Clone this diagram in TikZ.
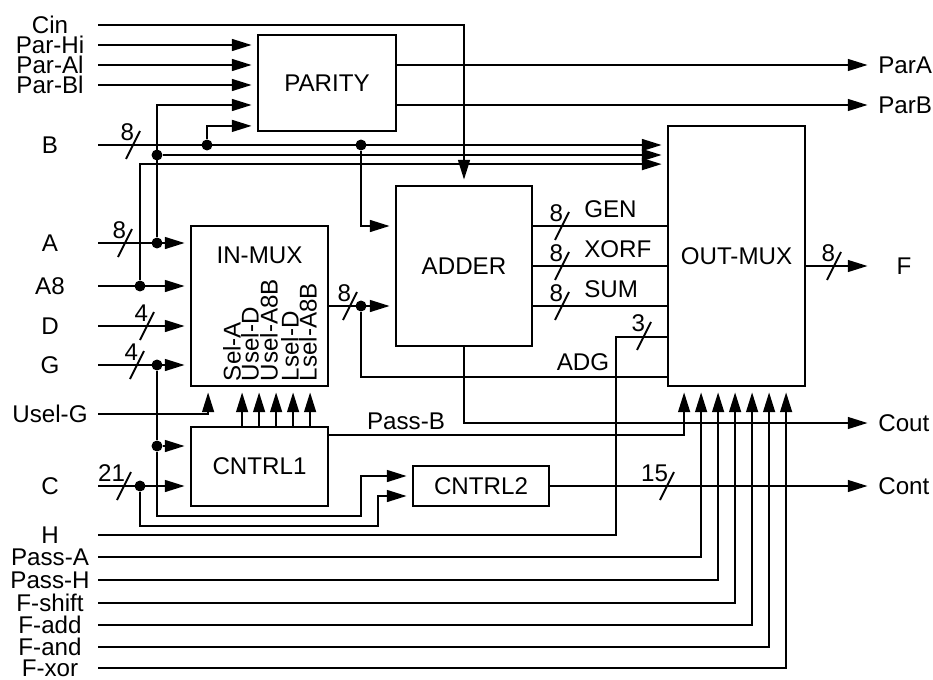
\documentclass[tikz,border=0pt]{standalone}
\usepackage{fontspec}
\setmainfont{Liberation Sans}
\usepackage{tikz}
\usetikzlibrary{arrows.meta,calc}
\tikzset{
  blockbox/.style={rectangle,draw=black,inner sep=0pt,align=center},
  arrow/.style={-{Triangle[length=9pt,width=5.4pt]},shorten >=2.5pt},
  junction/.style={circle,fill=black,inner sep=0pt,minimum size=5pt},
  inlabel/.style={inner sep=0pt},
  outlabel/.style={anchor=west,inner sep=2pt},
  buslabel/.style={anchor=east,inner sep=0pt},
  sellabel/.style={rotate=90,anchor=west,inner sep=0pt}
}

\begin{document}
\begin{tikzpicture}[x=0.016cm,y=-0.016cm,line width=0.85pt,font=\fontsize{11}{13}\selectfont]
  \useasboundingbox (0,0) rectangle (933,679);

  \node[blockbox,minimum width=2.208cm,minimum height=1.536cm] (parity) at (327,83) {PARITY};
  \node[blockbox,minimum width=2.192cm,minimum height=2.56cm] (inmux) at (259.5,306) {};
  \node (inmuxlbl) at ($(inmux.north)+(0,30)$) {IN-MUX};
  \node[blockbox,minimum width=2.176cm,minimum height=2.56cm] (adder) at (464,266) {ADDER};
  \node[blockbox,minimum width=2.192cm,minimum height=4.16cm] (outmux) at (736.5,256) {OUT-MUX};
  \node[blockbox,minimum width=2.192cm,minimum height=1.264cm] (cntrl1) at (259.5,466.5) {CNTRL1};
  \node[blockbox,minimum width=2.176cm,minimum height=0.64cm] (cntrl2) at (481,486) {CNTRL2};

  \foreach \n/\t/\y in {cin/Cin/25, parhi/Par-Hi/45, paral/Par-Al/65, parbl/Par-Bl/85,
    b/B/145, a/A/243, a8/A8/286, d/D/326, g/G/365, uselg/Usel-G/414, c/C/486, h/H/535,
    passa/Pass-A/557, passh/Pass-H/580, fshift/F-shift/603, fadd/F-add/625,
    fand/F-and/647, fxor/F-xor/668}
    \node[inlabel] (\n) at (50,\y) {\t};
  \coordinate (x0) at (98,0);

  \node[outlabel] (para) at (873,65) {ParA};
  \node[outlabel] (parb) at (873,105) {ParB};
  \node (f) at (904,266) {F};
  \node[outlabel] (cout) at (873,423) {Cout};
  \node[outlabel] (cont) at (873,486) {Cont};

  \foreach \t/\x [count=\i] in {Sel-A/232, Usel-D/250, Usel-A8B/269, Lsel-D/290, Lsel-A8B/308}
    \node[sellabel] (sel\i) at (\x,382) {\t};

  \node[anchor=south west] (gen) at (576,226) {GEN};
  \node[anchor=south west] (xorf) at (576,266) {XORF};
  \node[anchor=south west] (sum) at (576,306) {SUM};
  \node (adg) at (583,362) {ADG};
  \node (passb) at (406,421) {Pass-B};

  \node[junction] (ja1) at (157,155) {};
  \node[junction] (jb1) at (207,145) {};
  \node[junction] (jb2) at (361,145) {};
  \node[junction] (ja2) at (157,243) {};
  \node[junction] (ja8) at (140,286) {};
  \node[junction] (jg) at (157,365) {};
  \node[junction] (jmux) at (361,306) {};
  \node[junction] (jg2) at (157,446) {};
  \node[junction] (jc) at (140,486) {};

  \draw[arrow] (cin -| x0) -| (adder.north);
  \foreach \n in {parhi,paral,parbl}
    \draw[arrow] (\n -| x0) -- (\n -| parity.west);
  \draw[arrow] (b -| x0) -- (b -| outmux.west);
  \draw[arrow] (jb1) |- ($(parity.south west)+(0,-6)$);
  \draw[arrow] (jb2) |- ($(adder.west)+(0,-40)$);
  \draw[arrow] (a -| x0) -- (a -| inmux.west);
  \draw[arrow] (ja2) |- (parity.west |- parb);
  \draw[arrow] (ja1) -- (ja1 -| outmux.west);
  \draw[arrow] (a8 -| x0) -- (a8 -| inmux.west);
  \draw[arrow] (ja8) |- ($(outmux.north west)+(0,39)$);
  \draw[arrow] (d -| x0) -- (d -| inmux.west);
  \draw[arrow] (g -| x0) -- (g -| inmux.west);
  \draw[arrow] (jg) -- (jg2) -- ++(0,70) -| ($(cntrl2.west)+(-51,-10)$) -- ($(cntrl2.west)+(0,-10)$);
  \draw[arrow] (jg2) -- (jg2 -| cntrl1.west);
  \draw[arrow] (c -| x0) -- (c -| cntrl1.west);
  \draw[arrow] (jc) -- ++(0,40) -| ($(cntrl2.west)+(-34,10)$) -- ($(cntrl2.west)+(0,10)$);
  \draw[arrow] (uselg -| x0) -| ($(inmux.south west)+(18,0)$);
  \foreach \dx in {52,69,86,103,120}
    \draw[arrow] ($(cntrl1.north west)+(\dx,0)$) -- ($(inmux.south west)+(\dx,0)$);
  \draw[arrow] (inmux.east) -- ($(adder.west)+(0,40)$);
  \draw (jmux) |- ($(outmux.south west)+(0,-10)$);
  \foreach \n in {gen,xorf,sum}
    \draw (adder.east |- \n.south) -- (outmux.west |- \n.south);
  \draw (h -| x0) -| ($(outmux.south west)+(-51,-50)$) -- ($(outmux.south west)+(0,-50)$);
  \draw[arrow] (adder.south) |- (cout.west);
  \draw[arrow] ($(cntrl1.north east)+(0,9)$) -| ($(outmux.south west)+(17,0)$);
  \foreach \n/\dx in {passa/34,passh/51,fshift/68,fadd/85,fand/102,fxor/119}
    \draw[arrow] (\n -| x0) -| ($(outmux.south west)+(\dx,0)$);
  \draw[arrow] (parity.east |- para) -- (para.west);
  \draw[arrow] (parity.east |- parb) -- (parb.west);
  \draw[arrow] (outmux.east |- f) -- (f -| para.west);
  \draw[arrow] (cntrl2.east) -- (cont.west);

  \foreach \x/\y/\w [count=\i] in {133/145/8, 125/243/8, 147/326/4, 137/365/4, 124/486/21,
    350/306/8, 562/226/8, 562/266/8, 562/306/8, 644/336/3, 834/266/8, 667/486/15} {
    \draw (\x-7,\y+14) -- (\x+7,\y-14);
    \node[buslabel] (bus\i) at (\x+2,\y-13) {\w};
  }
\end{tikzpicture}
\end{document}
